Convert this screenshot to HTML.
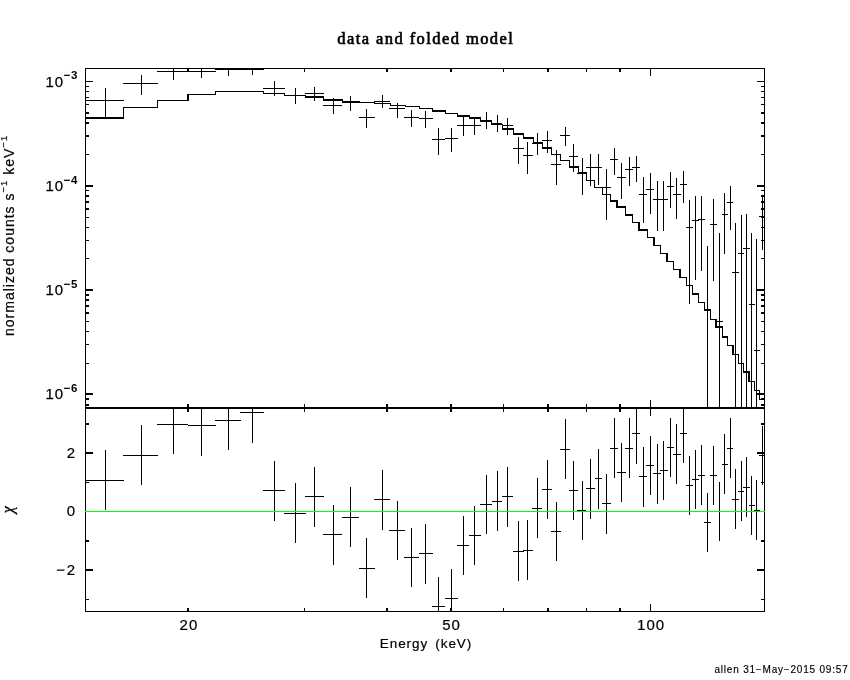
<!DOCTYPE html>
<html lang="en"><head><meta charset="utf-8"><title>data and folded model</title>
<style>html,body{margin:0;padding:0;background:#fff;}body{width:850px;height:680px;overflow:hidden;}svg{display:block;}text{font-family:"Liberation Sans",sans-serif;fill:#000;stroke:#000;stroke-width:0.2px;}.c{font-family:"Liberation Serif",serif;font-style:italic;stroke-width:0.35px;}.t{font-family:"Liberation Serif",serif;font-weight:normal;stroke-width:0.65px;}</style></head><body>
<svg width="850" height="680" viewBox="0 0 850 680">
<rect x="0" y="0" width="850" height="680" fill="#fff"/>
<g shape-rendering="crispEdges" fill="#000">
<rect x="85" y="68" width="680" height="1"/>
<rect x="85" y="611" width="680" height="1"/>
<rect x="85" y="407" width="680" height="2"/>
<rect x="85" y="68" width="1" height="544"/>
<rect x="764" y="68" width="1" height="544"/>
<rect x="187" y="68" width="2" height="4"/>
<rect x="187" y="404" width="2" height="8"/>
<rect x="187" y="608" width="2" height="4"/>
<rect x="304" y="68" width="1" height="4"/>
<rect x="304" y="404" width="1" height="8"/>
<rect x="304" y="608" width="1" height="4"/>
<rect x="386" y="68" width="2" height="4"/>
<rect x="386" y="404" width="2" height="8"/>
<rect x="386" y="608" width="2" height="4"/>
<rect x="450" y="68" width="2" height="4"/>
<rect x="450" y="404" width="2" height="8"/>
<rect x="450" y="608" width="2" height="4"/>
<rect x="503" y="68" width="1" height="4"/>
<rect x="503" y="404" width="1" height="8"/>
<rect x="503" y="608" width="1" height="4"/>
<rect x="547" y="68" width="2" height="4"/>
<rect x="547" y="404" width="2" height="8"/>
<rect x="547" y="608" width="2" height="4"/>
<rect x="586" y="68" width="1" height="4"/>
<rect x="586" y="404" width="1" height="8"/>
<rect x="586" y="608" width="1" height="4"/>
<rect x="619" y="68" width="2" height="4"/>
<rect x="619" y="404" width="2" height="8"/>
<rect x="619" y="608" width="2" height="4"/>
<rect x="650" y="68" width="1" height="8"/>
<rect x="650" y="400" width="1" height="16"/>
<rect x="650" y="604" width="1" height="8"/>
<rect x="85" y="81" width="8" height="1"/>
<rect x="757" y="81" width="8" height="1"/>
<rect x="85" y="185" width="8" height="2"/>
<rect x="757" y="185" width="8" height="2"/>
<rect x="85" y="154" width="4" height="1"/>
<rect x="761" y="154" width="4" height="1"/>
<rect x="85" y="135" width="4" height="2"/>
<rect x="761" y="135" width="4" height="2"/>
<rect x="85" y="122" width="4" height="2"/>
<rect x="761" y="122" width="4" height="2"/>
<rect x="85" y="112" width="4" height="2"/>
<rect x="761" y="112" width="4" height="2"/>
<rect x="85" y="104" width="4" height="1"/>
<rect x="761" y="104" width="4" height="1"/>
<rect x="85" y="97" width="4" height="1"/>
<rect x="761" y="97" width="4" height="1"/>
<rect x="85" y="91" width="4" height="1"/>
<rect x="761" y="91" width="4" height="1"/>
<rect x="85" y="86" width="4" height="1"/>
<rect x="761" y="86" width="4" height="1"/>
<rect x="85" y="289" width="8" height="2"/>
<rect x="757" y="289" width="8" height="2"/>
<rect x="85" y="258" width="4" height="1"/>
<rect x="761" y="258" width="4" height="1"/>
<rect x="85" y="240" width="4" height="1"/>
<rect x="761" y="240" width="4" height="1"/>
<rect x="85" y="227" width="4" height="1"/>
<rect x="761" y="227" width="4" height="1"/>
<rect x="85" y="217" width="4" height="1"/>
<rect x="761" y="217" width="4" height="1"/>
<rect x="85" y="208" width="4" height="2"/>
<rect x="761" y="208" width="4" height="2"/>
<rect x="85" y="201" width="4" height="2"/>
<rect x="761" y="201" width="4" height="2"/>
<rect x="85" y="195" width="4" height="2"/>
<rect x="761" y="195" width="4" height="2"/>
<rect x="85" y="190" width="4" height="1"/>
<rect x="761" y="190" width="4" height="1"/>
<rect x="85" y="393" width="8" height="2"/>
<rect x="757" y="393" width="8" height="2"/>
<rect x="85" y="363" width="4" height="1"/>
<rect x="761" y="363" width="4" height="1"/>
<rect x="85" y="344" width="4" height="1"/>
<rect x="761" y="344" width="4" height="1"/>
<rect x="85" y="331" width="4" height="1"/>
<rect x="761" y="331" width="4" height="1"/>
<rect x="85" y="321" width="4" height="1"/>
<rect x="761" y="321" width="4" height="1"/>
<rect x="85" y="312" width="4" height="2"/>
<rect x="761" y="312" width="4" height="2"/>
<rect x="85" y="305" width="4" height="2"/>
<rect x="761" y="305" width="4" height="2"/>
<rect x="85" y="299" width="4" height="2"/>
<rect x="761" y="299" width="4" height="2"/>
<rect x="85" y="294" width="4" height="2"/>
<rect x="761" y="294" width="4" height="2"/>
<rect x="85" y="404" width="4" height="2"/>
<rect x="761" y="404" width="4" height="2"/>
<rect x="85" y="398" width="4" height="2"/>
<rect x="761" y="398" width="4" height="2"/>
<rect x="85" y="423" width="4" height="2"/>
<rect x="761" y="423" width="4" height="2"/>
<rect x="85" y="452" width="8" height="2"/>
<rect x="757" y="452" width="8" height="2"/>
<rect x="85" y="482" width="4" height="1"/>
<rect x="761" y="482" width="4" height="1"/>
<rect x="85" y="540" width="4" height="2"/>
<rect x="761" y="540" width="4" height="2"/>
<rect x="85" y="569" width="8" height="2"/>
<rect x="757" y="569" width="8" height="2"/>
<rect x="85" y="599" width="4" height="1"/>
<rect x="761" y="599" width="4" height="1"/>
<rect x="85" y="100" width="39" height="1"/>
<rect x="105" y="88" width="1" height="30"/>
<rect x="85" y="480" width="39" height="1"/>
<rect x="105" y="450" width="1" height="60"/>
<rect x="123" y="83" width="35" height="1"/>
<rect x="141" y="75" width="1" height="20"/>
<rect x="123" y="455" width="35" height="1"/>
<rect x="141" y="425" width="1" height="60"/>
<rect x="157" y="71" width="31" height="1"/>
<rect x="173" y="68" width="1" height="12"/>
<rect x="157" y="424" width="31" height="1"/>
<rect x="173" y="409" width="1" height="45"/>
<rect x="188" y="71" width="28" height="1"/>
<rect x="201" y="68" width="1" height="10"/>
<rect x="188" y="425" width="28" height="1"/>
<rect x="201" y="409" width="1" height="47"/>
<rect x="215" y="69" width="26" height="1"/>
<rect x="228" y="68" width="1" height="8"/>
<rect x="215" y="420" width="26" height="1"/>
<rect x="228" y="409" width="1" height="41"/>
<rect x="240" y="69" width="24" height="1"/>
<rect x="252" y="68" width="1" height="7"/>
<rect x="240" y="412" width="24" height="1"/>
<rect x="252" y="409" width="1" height="34"/>
<rect x="263" y="88" width="22" height="1"/>
<rect x="274" y="81" width="1" height="15"/>
<rect x="263" y="490" width="22" height="1"/>
<rect x="274" y="461" width="1" height="60"/>
<rect x="284" y="95" width="22" height="1"/>
<rect x="295" y="88" width="1" height="16"/>
<rect x="284" y="513" width="22" height="1"/>
<rect x="295" y="483" width="1" height="60"/>
<rect x="305" y="93" width="19" height="1"/>
<rect x="314" y="87" width="1" height="14"/>
<rect x="305" y="496" width="19" height="1"/>
<rect x="314" y="467" width="1" height="60"/>
<rect x="323" y="105" width="19" height="1"/>
<rect x="333" y="98" width="1" height="16"/>
<rect x="323" y="534" width="19" height="1"/>
<rect x="333" y="505" width="1" height="60"/>
<rect x="342" y="102" width="17" height="1"/>
<rect x="350" y="96" width="1" height="15"/>
<rect x="342" y="517" width="17" height="1"/>
<rect x="350" y="487" width="1" height="60"/>
<rect x="359" y="117" width="16" height="1"/>
<rect x="366" y="109" width="1" height="19"/>
<rect x="359" y="568" width="16" height="1"/>
<rect x="366" y="538" width="1" height="60"/>
<rect x="374" y="101" width="16" height="1"/>
<rect x="382" y="95" width="1" height="13"/>
<rect x="374" y="499" width="16" height="1"/>
<rect x="382" y="470" width="1" height="60"/>
<rect x="389" y="108" width="16" height="1"/>
<rect x="397" y="103" width="1" height="15"/>
<rect x="389" y="530" width="16" height="1"/>
<rect x="397" y="501" width="1" height="59"/>
<rect x="404" y="117" width="15" height="1"/>
<rect x="411" y="110" width="1" height="17"/>
<rect x="404" y="557" width="15" height="1"/>
<rect x="411" y="528" width="1" height="59"/>
<rect x="419" y="118" width="14" height="1"/>
<rect x="425" y="111" width="1" height="17"/>
<rect x="419" y="553" width="14" height="1"/>
<rect x="425" y="524" width="1" height="60"/>
<rect x="432" y="139" width="13" height="1"/>
<rect x="438" y="128" width="1" height="27"/>
<rect x="432" y="606" width="13" height="1"/>
<rect x="438" y="577" width="1" height="35"/>
<rect x="445" y="138" width="13" height="1"/>
<rect x="451" y="128" width="1" height="24"/>
<rect x="445" y="598" width="13" height="1"/>
<rect x="451" y="569" width="1" height="43"/>
<rect x="457" y="125" width="12" height="1"/>
<rect x="463" y="116" width="1" height="20"/>
<rect x="457" y="545" width="12" height="1"/>
<rect x="463" y="516" width="1" height="59"/>
<rect x="469" y="125" width="12" height="1"/>
<rect x="474" y="117" width="1" height="18"/>
<rect x="469" y="535" width="12" height="1"/>
<rect x="474" y="506" width="1" height="59"/>
<rect x="480" y="120" width="12" height="1"/>
<rect x="486" y="112" width="1" height="17"/>
<rect x="480" y="504" width="12" height="1"/>
<rect x="486" y="475" width="1" height="59"/>
<rect x="492" y="123" width="10" height="1"/>
<rect x="497" y="115" width="1" height="17"/>
<rect x="492" y="501" width="10" height="1"/>
<rect x="497" y="471" width="1" height="60"/>
<rect x="502" y="125" width="11" height="1"/>
<rect x="507" y="118" width="1" height="17"/>
<rect x="502" y="496" width="11" height="1"/>
<rect x="507" y="467" width="1" height="60"/>
<rect x="513" y="148" width="11" height="1"/>
<rect x="518" y="137" width="1" height="27"/>
<rect x="513" y="551" width="11" height="1"/>
<rect x="518" y="521" width="1" height="60"/>
<rect x="523" y="155" width="10" height="1"/>
<rect x="527" y="142" width="1" height="32"/>
<rect x="523" y="550" width="10" height="1"/>
<rect x="527" y="520" width="1" height="60"/>
<rect x="532" y="143" width="10" height="1"/>
<rect x="537" y="133" width="1" height="22"/>
<rect x="532" y="508" width="10" height="1"/>
<rect x="537" y="478" width="1" height="60"/>
<rect x="542" y="140" width="10" height="1"/>
<rect x="547" y="131" width="1" height="22"/>
<rect x="542" y="489" width="10" height="1"/>
<rect x="547" y="460" width="1" height="59"/>
<rect x="551" y="164" width="10" height="1"/>
<rect x="556" y="150" width="1" height="35"/>
<rect x="551" y="531" width="10" height="1"/>
<rect x="556" y="502" width="1" height="59"/>
<rect x="560" y="135" width="10" height="1"/>
<rect x="565" y="127" width="1" height="19"/>
<rect x="560" y="449" width="10" height="1"/>
<rect x="565" y="419" width="1" height="60"/>
<rect x="569" y="156" width="9" height="1"/>
<rect x="573" y="144" width="1" height="28"/>
<rect x="569" y="490" width="9" height="1"/>
<rect x="573" y="461" width="1" height="59"/>
<rect x="577" y="173" width="9" height="1"/>
<rect x="582" y="158" width="1" height="37"/>
<rect x="577" y="510" width="9" height="1"/>
<rect x="582" y="481" width="1" height="59"/>
<rect x="586" y="167" width="9" height="1"/>
<rect x="590" y="154" width="1" height="32"/>
<rect x="586" y="488" width="9" height="1"/>
<rect x="590" y="459" width="1" height="60"/>
<rect x="595" y="167" width="7" height="1"/>
<rect x="598" y="154" width="1" height="31"/>
<rect x="595" y="478" width="7" height="1"/>
<rect x="598" y="449" width="1" height="60"/>
<rect x="602" y="187" width="9" height="1"/>
<rect x="606" y="169" width="1" height="51"/>
<rect x="602" y="503" width="9" height="1"/>
<rect x="606" y="474" width="1" height="60"/>
<rect x="610" y="159" width="8" height="1"/>
<rect x="614" y="148" width="1" height="27"/>
<rect x="610" y="448" width="8" height="1"/>
<rect x="614" y="418" width="1" height="60"/>
<rect x="617" y="177" width="9" height="1"/>
<rect x="621" y="163" width="1" height="36"/>
<rect x="617" y="472" width="9" height="1"/>
<rect x="621" y="443" width="1" height="59"/>
<rect x="625" y="169" width="8" height="1"/>
<rect x="629" y="157" width="1" height="29"/>
<rect x="625" y="448" width="8" height="1"/>
<rect x="629" y="418" width="1" height="60"/>
<rect x="632" y="167" width="8" height="1"/>
<rect x="636" y="156" width="1" height="26"/>
<rect x="632" y="433" width="8" height="1"/>
<rect x="636" y="409" width="1" height="55"/>
<rect x="639" y="194" width="8" height="1"/>
<rect x="643" y="177" width="1" height="46"/>
<rect x="639" y="476" width="8" height="1"/>
<rect x="643" y="447" width="1" height="60"/>
<rect x="646" y="189" width="8" height="1"/>
<rect x="650" y="173" width="1" height="41"/>
<rect x="646" y="465" width="8" height="1"/>
<rect x="650" y="436" width="1" height="59"/>
<rect x="653" y="199" width="8" height="1"/>
<rect x="657" y="181" width="1" height="50"/>
<rect x="653" y="473" width="8" height="1"/>
<rect x="657" y="444" width="1" height="60"/>
<rect x="660" y="199" width="8" height="1"/>
<rect x="663" y="181" width="1" height="50"/>
<rect x="660" y="470" width="8" height="1"/>
<rect x="663" y="441" width="1" height="59"/>
<rect x="667" y="186" width="7" height="1"/>
<rect x="670" y="172" width="1" height="36"/>
<rect x="667" y="447" width="7" height="1"/>
<rect x="670" y="418" width="1" height="59"/>
<rect x="673" y="194" width="8" height="1"/>
<rect x="676" y="178" width="1" height="41"/>
<rect x="673" y="454" width="8" height="1"/>
<rect x="676" y="424" width="1" height="60"/>
<rect x="680" y="184" width="7" height="1"/>
<rect x="683" y="171" width="1" height="32"/>
<rect x="680" y="433" width="7" height="1"/>
<rect x="683" y="409" width="1" height="54"/>
<rect x="686" y="227" width="7" height="1"/>
<rect x="689" y="200" width="1" height="104"/>
<rect x="686" y="485" width="7" height="1"/>
<rect x="689" y="456" width="1" height="59"/>
<rect x="692" y="220" width="7" height="1"/>
<rect x="695" y="196" width="1" height="84"/>
<rect x="692" y="479" width="7" height="1"/>
<rect x="695" y="450" width="1" height="59"/>
<rect x="698" y="219" width="7" height="1"/>
<rect x="701" y="196" width="1" height="75"/>
<rect x="698" y="475" width="7" height="1"/>
<rect x="701" y="445" width="1" height="60"/>
<rect x="707" y="246" width="1" height="161"/>
<rect x="704" y="522" width="7" height="1"/>
<rect x="707" y="493" width="1" height="59"/>
<rect x="710" y="224" width="7" height="1"/>
<rect x="713" y="199" width="1" height="82"/>
<rect x="710" y="475" width="7" height="1"/>
<rect x="713" y="446" width="1" height="59"/>
<rect x="716" y="321" width="7" height="1"/>
<rect x="719" y="233" width="1" height="174"/>
<rect x="716" y="511" width="7" height="1"/>
<rect x="719" y="482" width="1" height="59"/>
<rect x="722" y="214" width="6" height="1"/>
<rect x="724" y="193" width="1" height="61"/>
<rect x="722" y="464" width="6" height="1"/>
<rect x="724" y="434" width="1" height="60"/>
<rect x="727" y="202" width="6" height="1"/>
<rect x="730" y="186" width="1" height="44"/>
<rect x="727" y="448" width="6" height="1"/>
<rect x="730" y="418" width="1" height="60"/>
<rect x="732" y="272" width="7" height="1"/>
<rect x="735" y="223" width="1" height="184"/>
<rect x="732" y="499" width="7" height="1"/>
<rect x="735" y="469" width="1" height="60"/>
<rect x="738" y="253" width="6" height="1"/>
<rect x="741" y="215" width="1" height="192"/>
<rect x="738" y="491" width="6" height="1"/>
<rect x="741" y="461" width="1" height="60"/>
<rect x="743" y="248" width="7" height="1"/>
<rect x="746" y="214" width="1" height="193"/>
<rect x="743" y="487" width="7" height="1"/>
<rect x="746" y="457" width="1" height="60"/>
<rect x="749" y="304" width="6" height="1"/>
<rect x="751" y="233" width="1" height="174"/>
<rect x="749" y="505" width="6" height="1"/>
<rect x="751" y="476" width="1" height="59"/>
<rect x="754" y="350" width="6" height="1"/>
<rect x="756" y="239" width="1" height="168"/>
<rect x="754" y="510" width="6" height="1"/>
<rect x="756" y="480" width="1" height="60"/>
<rect x="759" y="216" width="6" height="1"/>
<rect x="762" y="195" width="1" height="55"/>
<rect x="759" y="455" width="6" height="1"/>
<rect x="762" y="426" width="1" height="59"/>
<rect x="85" y="117" width="39" height="2"/>
<rect x="123" y="107" width="1" height="12"/>
<rect x="123" y="107" width="35" height="1"/>
<rect x="157" y="100" width="1" height="8"/>
<rect x="157" y="100" width="32" height="1"/>
<rect x="187" y="94" width="2" height="7"/>
<rect x="188" y="94" width="28" height="1"/>
<rect x="215" y="91" width="1" height="4"/>
<rect x="215" y="91" width="26" height="1"/>
<rect x="240" y="91" width="1" height="1"/>
<rect x="240" y="91" width="24" height="1"/>
<rect x="263" y="91" width="1" height="3"/>
<rect x="263" y="93" width="22" height="1"/>
<rect x="284" y="93" width="1" height="3"/>
<rect x="284" y="95" width="22" height="1"/>
<rect x="305" y="95" width="1" height="3"/>
<rect x="305" y="96" width="19" height="2"/>
<rect x="323" y="96" width="1" height="5"/>
<rect x="323" y="99" width="20" height="2"/>
<rect x="342" y="99" width="1" height="4"/>
<rect x="342" y="101" width="18" height="2"/>
<rect x="359" y="102" width="1" height="1"/>
<rect x="359" y="102" width="16" height="1"/>
<rect x="374" y="102" width="1" height="2"/>
<rect x="374" y="103" width="17" height="1"/>
<rect x="390" y="103" width="1" height="3"/>
<rect x="390" y="105" width="16" height="1"/>
<rect x="405" y="105" width="1" height="2"/>
<rect x="405" y="106" width="15" height="1"/>
<rect x="419" y="106" width="1" height="3"/>
<rect x="419" y="108" width="14" height="1"/>
<rect x="432" y="108" width="1" height="4"/>
<rect x="432" y="110" width="14" height="2"/>
<rect x="445" y="110" width="1" height="4"/>
<rect x="445" y="113" width="13" height="1"/>
<rect x="457" y="113" width="1" height="4"/>
<rect x="457" y="115" width="13" height="2"/>
<rect x="469" y="115" width="1" height="4"/>
<rect x="469" y="117" width="12" height="2"/>
<rect x="480" y="117" width="1" height="5"/>
<rect x="480" y="120" width="12" height="2"/>
<rect x="491" y="120" width="1" height="5"/>
<rect x="491" y="124" width="12" height="1"/>
<rect x="502" y="124" width="1" height="6"/>
<rect x="502" y="128" width="12" height="2"/>
<rect x="513" y="128" width="1" height="7"/>
<rect x="513" y="133" width="11" height="2"/>
<rect x="523" y="133" width="1" height="6"/>
<rect x="523" y="137" width="11" height="2"/>
<rect x="533" y="137" width="1" height="7"/>
<rect x="533" y="142" width="10" height="2"/>
<rect x="542" y="142" width="1" height="7"/>
<rect x="542" y="147" width="10" height="2"/>
<rect x="551" y="147" width="1" height="8"/>
<rect x="551" y="154" width="10" height="1"/>
<rect x="560" y="154" width="1" height="7"/>
<rect x="560" y="160" width="10" height="1"/>
<rect x="569" y="160" width="1" height="8"/>
<rect x="569" y="166" width="10" height="2"/>
<rect x="578" y="166" width="1" height="8"/>
<rect x="578" y="172" width="9" height="2"/>
<rect x="586" y="172" width="1" height="9"/>
<rect x="586" y="180" width="9" height="1"/>
<rect x="594" y="180" width="1" height="8"/>
<rect x="594" y="187" width="9" height="1"/>
<rect x="602" y="187" width="1" height="8"/>
<rect x="602" y="194" width="9" height="1"/>
<rect x="610" y="194" width="1" height="8"/>
<rect x="610" y="200" width="8" height="2"/>
<rect x="616" y="200" width="2" height="8"/>
<rect x="617" y="206" width="9" height="2"/>
<rect x="625" y="206" width="1" height="10"/>
<rect x="625" y="214" width="8" height="2"/>
<rect x="632" y="214" width="1" height="9"/>
<rect x="632" y="222" width="8" height="1"/>
<rect x="638" y="222" width="2" height="9"/>
<rect x="639" y="229" width="9" height="2"/>
<rect x="647" y="229" width="1" height="9"/>
<rect x="647" y="237" width="8" height="1"/>
<rect x="653" y="237" width="2" height="9"/>
<rect x="654" y="245" width="7" height="1"/>
<rect x="660" y="245" width="1" height="9"/>
<rect x="660" y="253" width="8" height="1"/>
<rect x="666" y="253" width="2" height="9"/>
<rect x="667" y="261" width="7" height="1"/>
<rect x="673" y="261" width="1" height="9"/>
<rect x="673" y="269" width="8" height="1"/>
<rect x="679" y="269" width="2" height="9"/>
<rect x="680" y="277" width="7" height="1"/>
<rect x="686" y="277" width="1" height="9"/>
<rect x="686" y="285" width="7" height="1"/>
<rect x="692" y="285" width="1" height="10"/>
<rect x="692" y="293" width="7" height="2"/>
<rect x="698" y="293" width="1" height="10"/>
<rect x="698" y="302" width="7" height="1"/>
<rect x="704" y="302" width="1" height="9"/>
<rect x="704" y="309" width="7" height="2"/>
<rect x="710" y="309" width="1" height="11"/>
<rect x="710" y="319" width="7" height="1"/>
<rect x="715" y="319" width="2" height="9"/>
<rect x="716" y="326" width="7" height="2"/>
<rect x="722" y="326" width="1" height="12"/>
<rect x="722" y="336" width="6" height="2"/>
<rect x="727" y="336" width="1" height="10"/>
<rect x="727" y="345" width="7" height="1"/>
<rect x="732" y="345" width="2" height="10"/>
<rect x="733" y="354" width="6" height="1"/>
<rect x="738" y="354" width="1" height="10"/>
<rect x="738" y="363" width="6" height="1"/>
<rect x="743" y="363" width="1" height="10"/>
<rect x="743" y="371" width="7" height="2"/>
<rect x="748" y="371" width="2" height="11"/>
<rect x="749" y="381" width="6" height="1"/>
<rect x="754" y="381" width="1" height="10"/>
<rect x="754" y="390" width="6" height="1"/>
<rect x="759" y="390" width="1" height="10"/>
<rect x="759" y="399" width="6" height="1"/>
<rect x="85" y="511" width="680" height="1" fill="#00ff00"/>
</g>
<text class="t" x="425.8" y="43.6" font-size="16.5" text-anchor="middle" letter-spacing="1.42">data and folded model</text>
<text x="45.4" y="86.6" font-size="15" letter-spacing="0.9" style="stroke-width:0.25px">10</text>
<text x="63.8" y="79.2" font-size="11.5" font-weight="bold" letter-spacing="0.6" style="stroke-width:0">−3</text>
<text x="45.4" y="191.2" font-size="15" letter-spacing="0.9" style="stroke-width:0.25px">10</text>
<text x="63.8" y="183.8" font-size="11.5" font-weight="bold" letter-spacing="0.6" style="stroke-width:0">−4</text>
<text x="45.4" y="295.2" font-size="15" letter-spacing="0.9" style="stroke-width:0.25px">10</text>
<text x="63.8" y="287.8" font-size="11.5" font-weight="bold" letter-spacing="0.6" style="stroke-width:0">−5</text>
<text x="45.4" y="399.2" font-size="15" letter-spacing="0.9" style="stroke-width:0.25px">10</text>
<text x="63.8" y="391.8" font-size="11.5" font-weight="bold" letter-spacing="0.6" style="stroke-width:0">−6</text>
<text x="76.6" y="458.2" font-size="15" text-anchor="end" letter-spacing="1.6" style="stroke-width:0.2px">2</text>
<text x="76.6" y="516.3" font-size="15" text-anchor="end" letter-spacing="1.6" style="stroke-width:0.2px">0</text>
<text x="76.6" y="575.0" font-size="15" text-anchor="end" letter-spacing="1.6" style="stroke-width:0.2px">−2</text>
<text x="188.9" y="629.6" font-size="15" text-anchor="middle" letter-spacing="1.0" style="stroke-width:0.2px">20</text>
<text x="451.6" y="629.6" font-size="15" text-anchor="middle" letter-spacing="1.0" style="stroke-width:0.2px">50</text>
<text x="651.1" y="629.6" font-size="15" text-anchor="middle" letter-spacing="1.0" style="stroke-width:0.2px">100</text>
<text x="426" y="647.7" font-size="13.5" text-anchor="middle" letter-spacing="0.92" word-spacing="2.5">Energy (keV)</text>
<text x="848.5" y="672.6" font-size="10" text-anchor="end" letter-spacing="0.8" style="stroke-width:0.15px">allen 31−May−2015 09:57</text>
<text transform="translate(14.0,336) rotate(-90)" font-size="14" letter-spacing="1.0">normalized counts s<tspan font-size="9.5" dy="-7">−1</tspan><tspan dy="7"> keV</tspan><tspan font-size="9.5" dy="-7">−1</tspan></text>
<text transform="translate(13.4,513.3) rotate(-90)" font-size="16" class="c">χ</text>
</svg></body></html>
